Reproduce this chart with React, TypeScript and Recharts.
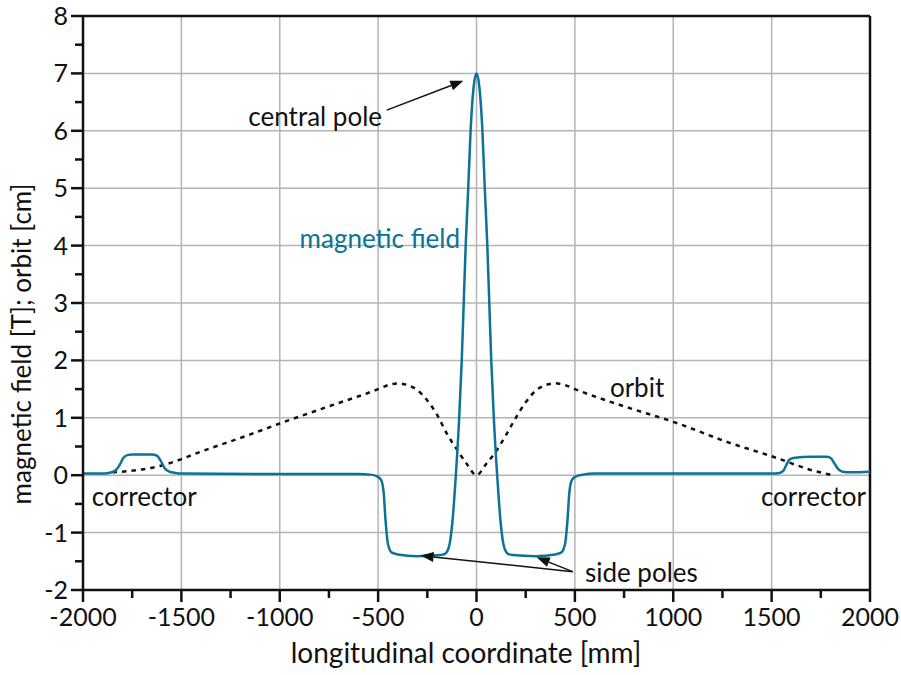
import React from "react";
import { LineChart, Line, XAxis, YAxis, ReferenceLine, ReferenceDot } from "recharts";

// magnetic field along the undulator (x in mm, B in T)
const fieldX = [
  -2000, -1900, -1870, -1840, -1815, -1795, -1775, -1750, -1650, -1625, -1605, -1585, -1560, -1530, -1500,
  -1000, -600, -540, -505, -485, -472, -462, -450, -430, -400, -300, -185, -160, -150, -142, -135, -130,
  -125, -120, -115, -110, -105, -88, -75, -65, -55, -42, -30, -15, 0, 15, 30, 42, 55, 65, 75, 88, 105, 110,
  115, 120, 125, 130, 135, 142, 150, 160, 185, 300, 400, 430, 450, 462, 472, 485, 505, 540, 600, 1000, 1500,
  1540, 1560, 1575, 1590, 1610, 1700, 1780, 1800, 1820, 1840, 1860, 1900, 2000,
];
const fieldB = [
  0.03, 0.03, 0.04, 0.07, 0.17, 0.3, 0.35, 0.36, 0.36, 0.34, 0.25, 0.12, 0.06, 0.04, 0.03,
  0.02, 0.02, 0.01, -0.02, -0.08, -0.3, -0.8, -1.2, -1.35, -1.38, -1.41, -1.39, -1.37, -1.33, -1.27, -1.17,
  -1.05, -0.9, -0.72, -0.5, -0.25, 0, 1, 2, 3, 4, 5, 6, 6.75, 7.0, 6.75, 6, 5, 4, 3, 2, 1, 0, -0.25,
  -0.5, -0.72, -0.9, -1.05, -1.17, -1.27, -1.33, -1.37, -1.39, -1.41, -1.38, -1.35, -1.2, -0.8, -0.3, -0.08,
  -0.02, 0.01, 0.03, 0.03, 0.03,
  0.04, 0.08, 0.18, 0.27, 0.3, 0.32, 0.32, 0.3, 0.2, 0.1, 0.06, 0.05, 0.06,
];

// electron orbit (x in mm, offset in cm)
const orbitX = [
  -1850, -1700, -1610, -1500, -1440, -1150, -1000, -750, -500, -450, -400, -350, -300, -250, -200, -150, -100,
  -50, 0, 50, 100, 150, 200, 250, 300, 350, 400, 450, 500, 750, 1000, 1290, 1500, 1712, 1810,
];
const orbitY = [
  0.05, 0.1, 0.16, 0.28, 0.36, 0.71, 0.9, 1.2, 1.5, 1.57, 1.6, 1.57, 1.48, 1.3, 1.05, 0.72, 0.45,
  0.2, 0, 0.2, 0.42, 0.7, 1.0, 1.27, 1.47, 1.57, 1.6, 1.57, 1.5, 1.2, 0.93, 0.56, 0.33, 0.08, 0,
];

const xTicks = [-2000, -1750, -1500, -1250, -1000, -750, -500, -250, 0, 250, 500, 750, 1000, 1250, 1500, 1750, 2000];
const yTicks = [-2, -1.5, -1, -0.5, 0, 0.5, 1, 1.5, 2, 2.5, 3, 3.5, 4, 4.5, 5, 5.5, 6, 6.5, 7, 7.5, 8];
const xGrid = [-1500, -1000, -500, 0, 500, 1000, 1500];
const yGrid = [-1, 0, 1, 2, 3, 4, 5, 6, 7];

const fieldData = fieldX.map((x, i) => ({ x, y: fieldB[i] }));
const orbitData = orbitX.map((x, i) => ({ x, y: orbitY[i] }));

const FONT = "Lato, 'Open Sans', sans-serif";
const FIELD_COLOR = "#0b7393";
const GRID_COLOR = "#b4b4b4";

const XTick = (props: any) => {
  const { x, y, payload } = props;
  const major = payload.value % 500 === 0;
  return (
    <g>
      <line x1={x} y1={y} x2={x} y2={y + (major ? 12 : 8)} stroke="#111" strokeWidth={2.5} />
      {major && (
        <text x={x} y={y + 36} textAnchor="middle" fontSize={25} fontFamily={FONT} fill="#111">
          {payload.value}
        </text>
      )}
    </g>
  );
};

const YTick = (props: any) => {
  const { x, y, payload } = props;
  const major = Number.isInteger(payload.value);
  return (
    <g>
      <line x1={x} y1={y} x2={x - (major ? 12 : 8)} y2={y} stroke="#111" strokeWidth={2.5} />
      {major && (
        <text x={x - 15} y={y} dy={9} textAnchor="end" fontSize={25} fontFamily={FONT} fill="#111">
          {payload.value}
        </text>
      )}
    </g>
  );
};

const Arrow = (props: any) => {
  const { x1, y1, x2, y2 } = props;
  const ang = Math.atan2(y2 - y1, x2 - x1);
  const len = 13;
  const w = 5;
  const bx = x2 - len * Math.cos(ang);
  const by = y2 - len * Math.sin(ang);
  const px = -Math.sin(ang) * w;
  const py = Math.cos(ang) * w;
  return (
    <g>
      <line x1={x1} y1={y1} x2={bx} y2={by} stroke="#111" strokeWidth={1.5} />
      <polygon points={`${x2},${y2} ${bx + px},${by + py} ${bx - px},${by - py}`} fill="#111" />
    </g>
  );
};

const note = (text: string, anchor: string, color = "#111") => (p: any) => (
  <text
    x={p.cx}
    y={p.cy}
    dy={9}
    textAnchor={anchor}
    fontSize={26}
    fontFamily={FONT}
    fill={color}
  >
    {text}
  </text>
);

export default function App() {
  return (
    <div style={{ position: "absolute", left: 0, top: 0, background: "#fff" }}>
      <LineChart width={901} height={675} margin={{ top: 16, right: 31, left: 23, bottom: 25 }}>
        <XAxis
          dataKey="x"
          type="number"
          domain={[-2000, 2000]}
          ticks={xTicks}
          interval={0}
          allowDataOverflow
          height={60}
          tickSize={0}
          tickMargin={0}
          tickLine={false}
          axisLine={{ stroke: "#111", strokeWidth: 2.5 }}
          tick={<XTick />}
        />
        <YAxis
          type="number"
          domain={[-2, 8]}
          ticks={yTicks}
          interval={0}
          allowDataOverflow
          width={60}
          tickSize={0}
          tickMargin={0}
          tickLine={false}
          axisLine={{ stroke: "#111", strokeWidth: 2.5 }}
          tick={<YTick />}
        />
        {xGrid.map((v) => (
          <ReferenceLine key={"gx" + v} x={v} stroke={GRID_COLOR} strokeWidth={1.5} />
        ))}
        {yGrid.map((v) => (
          <ReferenceLine key={"gy" + v} y={v} stroke={GRID_COLOR} strokeWidth={1.5} />
        ))}
        <ReferenceLine y={8} stroke="#111" strokeWidth={2.5} />
        <ReferenceLine x={2000} stroke="#111" strokeWidth={2.5} />

        <Line
          data={orbitData}
          dataKey="y"
          type="monotone"
          stroke="#111"
          strokeWidth={2.5}
          strokeDasharray="4.5 5"
          dot={false}
          activeDot={false}
          isAnimationActive={false}
        />
        <Line
          data={fieldData}
          dataKey="y"
          type="monotone"
          stroke={FIELD_COLOR}
          strokeWidth={2.5}
          dot={false}
          activeDot={false}
          isAnimationActive={false}
        />

        <ReferenceLine segment={[{ x: -456, y: 6.36 }, { x: -67, y: 6.87 }]} shape={<Arrow />} />
        <ReferenceLine segment={[{ x: 489, y: -1.68 }, { x: -284, y: -1.4 }]} shape={<Arrow />} />
        <ReferenceLine segment={[{ x: 489, y: -1.68 }, { x: 306, y: -1.43 }]} shape={<Arrow />} />

        <ReferenceDot x={-480} y={6.24} r={0} shape={note("central pole", "end")} />
        <ReferenceDot x={-84} y={4.12} r={0} shape={note("magnetic field", "end", FIELD_COLOR)} />
        <ReferenceDot x={678} y={1.52} r={0} shape={note("orbit", "start")} />
        <ReferenceDot x={-1955} y={-0.38} r={0} shape={note("corrector", "start")} />
        <ReferenceDot x={1979} y={-0.38} r={0} shape={note("corrector", "end")} />
        <ReferenceDot x={551} y={-1.7} r={0} shape={note("side poles", "start")} />

        <text
          x={466}
          y={663}
          textAnchor="middle"
          fontSize={28}
          fontFamily={FONT}
          fill="#111"
        >
          longitudinal coordinate [mm]
        </text>
        <text
          x={0}
          y={0}
          transform="translate(31, 344) rotate(-90)"
          textAnchor="middle"
          fontSize={26}
          fontFamily={FONT}
          fill="#111"
        >
          magnetic field [T]; orbit [cm]
        </text>
      </LineChart>
    </div>
  );
}
